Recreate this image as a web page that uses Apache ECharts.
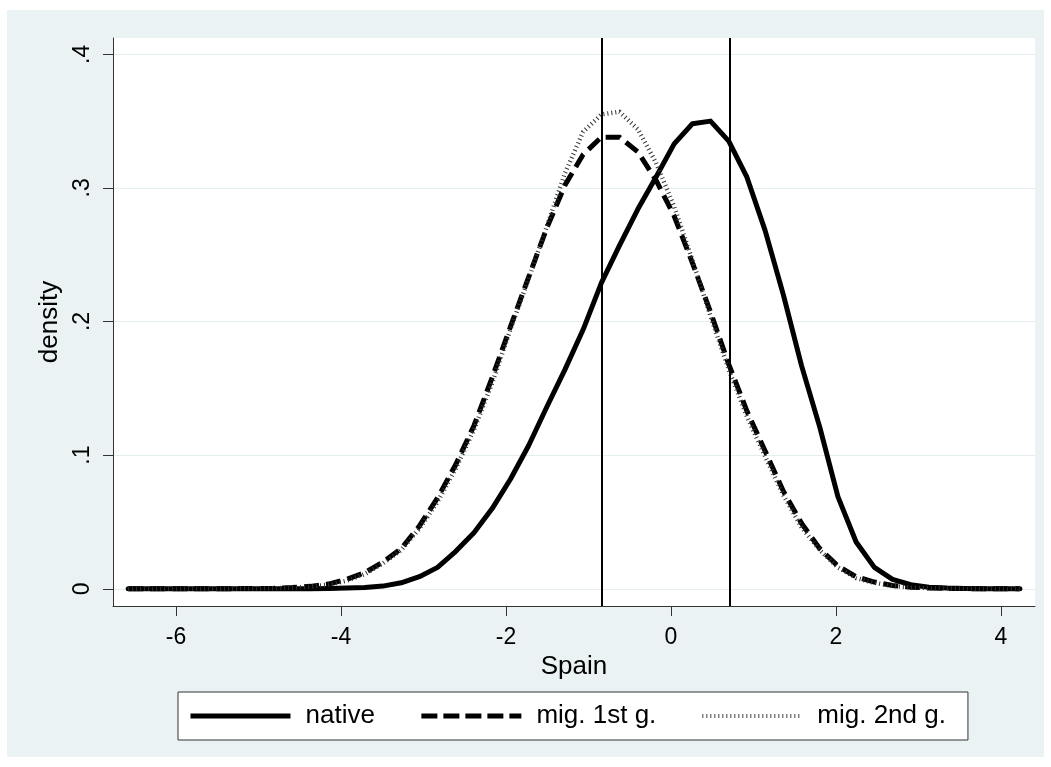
<!DOCTYPE html>
<html>
<head>
<meta charset="utf-8">
<script src="https://cdn.jsdelivr.net/npm/echarts@6/dist/echarts.min.js"></script>
<style>
html,body{margin:0;padding:0;background:#ffffff;}
#chart{width:1051px;height:767px;}
</style>
</head>
<body>
<div id="chart"></div>
<script>
// Evaluation grid (x values of the kernel density estimates)
const xs = [-6.580,-6.359,-6.139,-5.918,-5.698,-5.477,-5.256,-5.036,-4.815,-4.595,
            -4.374,-4.153,-3.933,-3.712,-3.492,-3.271,-3.050,-2.830,-2.609,-2.389,
            -2.168,-1.947,-1.727,-1.506,-1.286,-1.065,-0.844,-0.624,-0.403,-0.183,
             0.038, 0.259, 0.479, 0.700, 0.920, 1.141, 1.362, 1.582, 1.803, 2.023,
             2.244, 2.465, 2.685, 2.906, 3.126, 3.347, 3.568, 3.788, 4.009, 4.229];
const nativeDensity = [0,0,0,0,0,0,0,0,0,0,
            0.0001,0.0002,0.0005,0.001,0.002,0.0045,0.009,0.016,0.028,0.042,
            0.060,0.082,0.107,0.136,0.164,0.194,0.229,0.257,0.284,0.308,
            0.333,0.348,0.350,0.335,0.308,0.268,0.220,0.167,0.121,0.069,
            0.035,0.016,0.007,0.003,0.0012,0.0005,0.0002,0.0001,0,0];
const mig1Density = [0,0,0,0,0,0,0.0001,0.0002,0.0004,0.0009,
            0.0018,0.0035,0.007,0.012,0.020,0.030,0.047,0.068,0.093,0.122,
            0.158,0.196,0.233,0.270,0.302,0.325,0.338,0.338,0.327,0.306,
            0.279,0.244,0.207,0.168,0.133,0.103,0.073,0.049,0.030,0.017,
            0.009,0.005,0.0025,0.0012,0.0006,0.0003,0.0001,0,0,0];
const mig2Density = [0,0,0,0,0,0,0.0001,0.0002,0.0004,0.0008,
            0.0016,0.003,0.006,0.011,0.019,0.029,0.045,0.065,0.090,0.119,
            0.154,0.194,0.232,0.271,0.311,0.342,0.355,0.357,0.344,0.319,
            0.286,0.246,0.204,0.164,0.129,0.099,0.070,0.046,0.029,0.016,
            0.008,0.0045,0.002,0.001,0.0005,0.0002,0.0001,0,0,0];
const seriesNames = ['native', 'mig. 1st g.', 'mig. 2nd g.'];
const xTicks = [-6, -4, -2, 0, 2, 4];
const yTicks = [0, 0.1, 0.2, 0.3, 0.4];
const yTickLabels = ['0', '.1', '.2', '.3', '.4'];
const vLines = [-0.84, 0.715];
const xTitle = 'Spain';
const yTitle = 'density';

const FONT = 'Liberation Sans, Arial, Helvetica, sans-serif';
const pairs = (ys) => xs.map((x, i) => [x, ys[i]]);

const styles = [
  {color: '#000', width: 5, type: 'solid', cap: 'round', join: 'round'},
  {color: '#000', width: 5, type: [15, 7], cap: 'butt', join: 'miter'},
  {color: '#333', width: 4.5, type: [1, 3], cap: 'butt'}
];
const legendStyles = [
  {color: '#000', width: 5, type: 'solid', cap: 'butt'},
  {color: '#000', width: 5, type: [16, 6], cap: 'butt'},
  {color: '#444', width: 4, type: [1, 3], cap: 'butt'}
];

const chart = echarts.init(document.getElementById('chart'), null, {renderer: 'canvas'});
chart.setOption({
  animation: false,
  backgroundColor: '#ffffff',
  graphic: [{
    type: 'rect', z: -10, silent: true,
    shape: {x: 7, y: 10, width: 1037, height: 747},
    style: {fill: '#eaf2f3'}
  }],
  grid: {
    left: 113, right: 16, top: 38, bottom: 161,
    show: true, backgroundColor: '#ffffff', borderWidth: 0
  },
  xAxis: {
    type: 'value', min: -6.764, max: 4.412,
    name: xTitle, nameLocation: 'middle', nameGap: 42,
    nameTextStyle: {fontFamily: FONT, fontSize: 26, color: '#000'},
    axisLine: {show: true, onZero: false, lineStyle: {color: '#333', width: 1}},
    axisTick: {show: true, customValues: xTicks, length: 10, lineStyle: {color: '#333', width: 1}},
    axisLabel: {customValues: xTicks, margin: 20, fontFamily: FONT, fontSize: 23, color: '#000',
      formatter: v => String(v)},
    splitLine: {show: false}
  },
  yAxis: {
    type: 'value', min: -0.0129, max: 0.4122,
    name: yTitle, nameLocation: 'middle', nameGap: 42, nameRotate: 90,
    nameTextStyle: {fontFamily: FONT, fontSize: 26, color: '#000'},
    axisLine: {show: true, onZero: false, lineStyle: {color: '#333', width: 1}},
    axisTick: {show: true, customValues: yTicks, length: 10, lineStyle: {color: '#333', width: 1}},
    axisLabel: {customValues: yTicks, rotate: 90, margin: 19, fontFamily: FONT, fontSize: 23, color: '#000',
      formatter: v => { const i = yTicks.findIndex(t => Math.abs(t - v) < 1e-9); return i >= 0 ? yTickLabels[i] : ''; }},
    splitLine: {show: true, lineStyle: {color: '#e4edf0', width: 1}}
  },
  legend: {
    data: seriesNames.map((n, i) => ({
      name: n,
      itemStyle: {opacity: 0, borderWidth: 0},
      lineStyle: legendStyles[i]
    })),
    left: 178, top: 692,
    orient: 'horizontal',
    itemWidth: 100, itemHeight: 14, itemGap: 44,
    padding: [11, 22, 11, 10],
    backgroundColor: '#ffffff', borderColor: '#333', borderWidth: 1,
    selectedMode: false,
    textStyle: {fontFamily: FONT, fontSize: 26, color: '#000', padding: [0, 0, 0, 10]}
  },
  series: [
    {
      name: seriesNames[0], type: 'line', data: pairs(nativeDensity),
      symbol: 'none', showSymbol: false, smooth: false,
      lineStyle: styles[0],
      itemStyle: {color: '#000'},
      markLine: {
        silent: true, symbol: ['none', 'none'],
        label: {show: false},
        lineStyle: {color: '#000', width: 2, type: 'solid'},
        emphasis: {disabled: true},
        data: vLines.map(v => ({xAxis: v}))
      }
    },
    {
      name: seriesNames[1], type: 'line', data: pairs(mig1Density),
      symbol: 'none', showSymbol: false, smooth: false,
      lineStyle: styles[1],
      itemStyle: {color: '#000'}
    },
    {
      name: seriesNames[2], type: 'line', data: pairs(mig2Density),
      symbol: 'none', showSymbol: false, smooth: false,
      lineStyle: styles[2],
      itemStyle: {color: '#333'}
    }
  ]
});
</script>
</body>
</html>
